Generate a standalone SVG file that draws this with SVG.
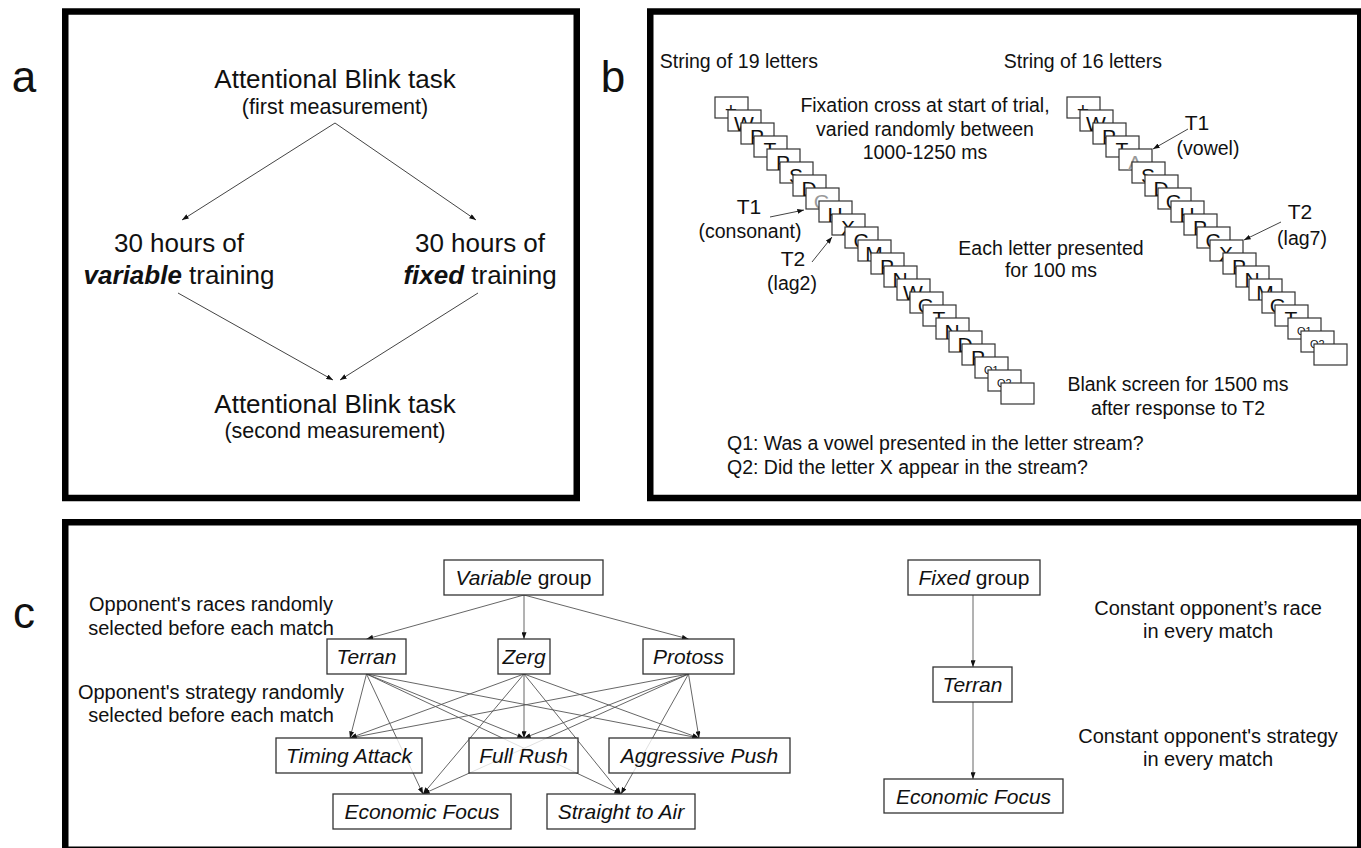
<svg xmlns="http://www.w3.org/2000/svg" width="1361" height="848" viewBox="0 0 1361 848">
<defs>
<marker id="ah" viewBox="0 0 8 6" refX="8" refY="3" markerWidth="7" markerHeight="5" markerUnits="userSpaceOnUse" orient="auto"><path d="M0,0 L8,3 L0,6 z" fill="#111"/></marker>
<style>
text{font-family:"Liberation Sans",Arial,sans-serif;fill:#111}
.frame{fill:none;stroke:#000;stroke-width:6.5}
.lab{font-size:44px;text-anchor:middle}
.t26{font-size:26px;text-anchor:middle}
.t21{font-size:21.5px;text-anchor:middle}
.pb{font-size:19.5px}
.mid{text-anchor:middle}
.tt{font-size:21px;text-anchor:middle}
.ln{stroke:#444;stroke-width:1;fill:none;marker-end:url(#ah)}
.lc{stroke:#555;stroke-width:0.9;fill:none;marker-end:url(#ah)}
.bx{fill:#fff;stroke:#333;stroke-width:1.2}
.lt{font-size:21px;text-anchor:middle}
.gr{fill:#999}
.q{font-size:11px}
.nd{fill:#fff;fill-opacity:0.8;stroke:#333;stroke-width:1.3}
.nt{font-size:21px;text-anchor:middle}
.it{font-style:italic}
.an{font-size:20px;text-anchor:middle}
</style>
</defs>
<rect width="1361" height="848" fill="#fff"/>

<!-- frames -->
<rect class="frame" x="65.25" y="11.5" width="511.5" height="486.5"/>
<rect class="frame" x="650.25" y="11.5" width="710" height="486.5"/>
<rect class="frame" x="65.25" y="522.25" width="1295" height="327.5"/>
<text class="lab" x="24" y="92">a</text>
<text class="lab" x="613" y="92">b</text>
<text class="lab" x="24" y="628">c</text>

<!-- panel a -->
<g id="a-top"><text class="t26" x="335" y="88">Attentional Blink task</text><text class="t21" x="335" y="114">(first measurement)</text></g>
<g id="a-var"><text class="t26" x="179" y="252">30 hours of</text><text class="t26" x="179" y="284"><tspan font-weight="bold" font-style="italic">variable</tspan> training</text></g>
<g id="a-fix"><text class="t26" x="480" y="252">30 hours of</text><text class="t26" x="480" y="284"><tspan font-weight="bold" font-style="italic">fixed</tspan> training</text></g>
<g id="a-bot"><text class="t26" x="335" y="413">Attentional Blink task</text><text class="t21" x="335" y="438">(second measurement)</text></g>
<g id="a-conn">
<line class="ln" x1="335" y1="123" x2="182" y2="220"/>
<line class="ln" x1="335" y1="123" x2="476" y2="220"/>
<line class="ln" x1="178" y1="293" x2="333" y2="380"/>
<line class="ln" x1="478" y1="293" x2="340" y2="380"/>
</g>

<!-- panel b texts -->
<g id="b-texts" class="pb">
<text x="818" y="68" text-anchor="end">String of 19 letters</text>
<text x="1162" y="68" text-anchor="end">String of 16 letters</text>
<text class="mid" x="925" y="112">Fixation cross at start of trial,</text>
<text class="mid" x="925" y="136">varied randomly between</text>
<text class="mid" x="925" y="159">1000-1250 ms</text>
<text class="mid" x="1051" y="255">Each letter presented</text>
<text class="mid" x="1051" y="277">for 100 ms</text>
<text class="mid" x="1178" y="391">Blank screen for 1500 ms</text>
<text class="mid" x="1178" y="415">after response to T2</text>
<text x="727" y="450">Q1: Was a vowel presented in the letter stream?</text>
<text x="727" y="474">Q2: Did the letter X appear in the stream?</text>
</g>
<g id="b-left-stack">
<g transform="translate(715,97)"><rect class="bx" width="33" height="21"/><text class="lt" x="16" y="20">+</text></g>
<g transform="translate(728,110)"><rect class="bx" width="33" height="21"/><text class="lt" x="16" y="21">W</text></g>
<g transform="translate(741,123)"><rect class="bx" width="33" height="21"/><text class="lt" x="16" y="21">P</text></g>
<g transform="translate(754,136)"><rect class="bx" width="33" height="21"/><text class="lt" x="16" y="21">T</text></g>
<g transform="translate(767,149)"><rect class="bx" width="33" height="21"/><text class="lt" x="16" y="21">P</text></g>
<g transform="translate(780,162)"><rect class="bx" width="33" height="21"/><text class="lt" x="16" y="21">S</text></g>
<g transform="translate(793,175)"><rect class="bx" width="33" height="21"/><text class="lt" x="16" y="21">D</text></g>
<g transform="translate(806,188)"><rect class="bx" width="33" height="21"/><text class="lt gr" x="16" y="21">G</text></g>
<g transform="translate(819,201)"><rect class="bx" width="33" height="21"/><text class="lt" x="16" y="21">H</text></g>
<g transform="translate(832,214)"><rect class="bx" width="33" height="21"/><text class="lt" x="16" y="21">X</text></g>
<g transform="translate(845,227)"><rect class="bx" width="33" height="21"/><text class="lt" x="16" y="21">C</text></g>
<g transform="translate(858,240)"><rect class="bx" width="33" height="21"/><text class="lt" x="16" y="21">M</text></g>
<g transform="translate(871,253)"><rect class="bx" width="33" height="21"/><text class="lt" x="16" y="21">P</text></g>
<g transform="translate(884,266)"><rect class="bx" width="33" height="21"/><text class="lt" x="16" y="21">N</text></g>
<g transform="translate(897,279)"><rect class="bx" width="33" height="21"/><text class="lt" x="16" y="21">W</text></g>
<g transform="translate(910,292)"><rect class="bx" width="33" height="21"/><text class="lt" x="16" y="21">G</text></g>
<g transform="translate(923,305)"><rect class="bx" width="33" height="21"/><text class="lt" x="16" y="21">T</text></g>
<g transform="translate(936,318)"><rect class="bx" width="33" height="21"/><text class="lt" x="16" y="21">N</text></g>
<g transform="translate(949,331)"><rect class="bx" width="33" height="21"/><text class="lt" x="16" y="21">D</text></g>
<g transform="translate(962,344)"><rect class="bx" width="33" height="21"/><text class="lt" x="16" y="21">P</text></g>
<g transform="translate(975,357)"><rect class="bx" width="33" height="21"/><text class="q" x="9" y="17">Q1</text></g>
<g transform="translate(988,370)"><rect class="bx" width="33" height="21"/><text class="q" x="9" y="17">Q2</text></g>
<g transform="translate(1001,383)"><rect class="bx" width="33" height="21"/></g>
</g>
<g id="b-right-stack">
<g transform="translate(1067,97)"><rect class="bx" width="33" height="21"/><text class="lt" x="16" y="20">+</text></g>
<g transform="translate(1080,110)"><rect class="bx" width="33" height="21"/><text class="lt" x="16" y="21">W</text></g>
<g transform="translate(1093,123)"><rect class="bx" width="33" height="21"/><text class="lt" x="16" y="21">P</text></g>
<g transform="translate(1106,136)"><rect class="bx" width="33" height="21"/><text class="lt" x="16" y="21">T</text></g>
<g transform="translate(1119,149)"><rect class="bx" width="33" height="21"/><text class="lt gr" x="16" y="21">A</text></g>
<g transform="translate(1132,162)"><rect class="bx" width="33" height="21"/><text class="lt" x="16" y="21">S</text></g>
<g transform="translate(1145,175)"><rect class="bx" width="33" height="21"/><text class="lt" x="16" y="21">D</text></g>
<g transform="translate(1158,188)"><rect class="bx" width="33" height="21"/><text class="lt" x="16" y="21">G</text></g>
<g transform="translate(1171,201)"><rect class="bx" width="33" height="21"/><text class="lt" x="16" y="21">H</text></g>
<g transform="translate(1184,214)"><rect class="bx" width="33" height="21"/><text class="lt" x="16" y="21">P</text></g>
<g transform="translate(1197,227)"><rect class="bx" width="33" height="21"/><text class="lt" x="16" y="21">C</text></g>
<g transform="translate(1210,240)"><rect class="bx" width="33" height="21"/><text class="lt" x="16" y="21">X</text></g>
<g transform="translate(1223,253)"><rect class="bx" width="33" height="21"/><text class="lt" x="16" y="21">P</text></g>
<g transform="translate(1236,266)"><rect class="bx" width="33" height="21"/><text class="lt" x="16" y="21">N</text></g>
<g transform="translate(1249,279)"><rect class="bx" width="33" height="21"/><text class="lt" x="16" y="21">M</text></g>
<g transform="translate(1262,292)"><rect class="bx" width="33" height="21"/><text class="lt" x="16" y="21">G</text></g>
<g transform="translate(1275,305)"><rect class="bx" width="33" height="21"/><text class="lt" x="16" y="21">T</text></g>
<g transform="translate(1288,318)"><rect class="bx" width="33" height="21"/><text class="q" x="9" y="17">Q1</text></g>
<g transform="translate(1301,331)"><rect class="bx" width="33" height="21"/><text class="q" x="9" y="17">Q2</text></g>
<g transform="translate(1314,344)"><rect class="bx" width="33" height="21"/></g>
</g>
<g id="b-targets">
<text class="tt" x="749" y="214">T1</text><text class="pb mid" x="750" y="238">(consonant)</text>
<text class="tt" x="793" y="266">T2</text><text class="pb mid" x="792" y="290">(lag2)</text>
<text class="tt" x="1197" y="130">T1</text><text class="pb mid" x="1208" y="155">(vowel)</text>
<text class="tt" x="1300" y="219">T2</text><text class="pb mid" x="1302" y="245">(lag7)</text>
</g>
<g id="b-conn">
<line class="ln" x1="770" y1="217" x2="804" y2="210"/>
<line class="ln" x1="812" y1="262" x2="832" y2="237"/>
<line class="ln" x1="1188" y1="129" x2="1153" y2="149"/>
<line class="ln" x1="1281" y1="222" x2="1244" y2="240"/>
</g>

<!-- panel c -->
<g id="c-notes">
<text class="an" x="211" y="611">Opponent's races randomly</text>
<text class="an" x="211" y="635">selected before each match</text>
<text class="an" x="211" y="699">Opponent's strategy randomly</text>
<text class="an" x="211" y="722">selected before each match</text>
<text class="an" x="1208" y="615">Constant opponent’s race</text>
<text class="an" x="1208" y="638">in every match</text>
<text class="an" x="1208" y="743">Constant opponent's strategy</text>
<text class="an" x="1208" y="766">in every match</text>
</g>
<g id="c-conn">
<line class="lc" x1="524" y1="595" x2="366.5" y2="639"/>
<line class="lc" x1="524" y1="595" x2="524" y2="639"/>
<line class="lc" x1="524" y1="595" x2="688.5" y2="639"/>
<line class="lc" x1="366.5" y1="674" x2="350" y2="738"/>
<line class="lc" x1="366.5" y1="674" x2="524" y2="738"/>
<line class="lc" x1="366.5" y1="674" x2="699" y2="738"/>
<line class="lc" x1="366.5" y1="674" x2="423" y2="794"/>
<line class="lc" x1="366.5" y1="674" x2="621" y2="794"/>
<line class="lc" x1="524" y1="674" x2="350" y2="738"/>
<line class="lc" x1="524" y1="674" x2="524" y2="738"/>
<line class="lc" x1="524" y1="674" x2="699" y2="738"/>
<line class="lc" x1="524" y1="674" x2="423" y2="794"/>
<line class="lc" x1="524" y1="674" x2="621" y2="794"/>
<line class="lc" x1="688.5" y1="674" x2="350" y2="738"/>
<line class="lc" x1="688.5" y1="674" x2="524" y2="738"/>
<line class="lc" x1="688.5" y1="674" x2="699" y2="738"/>
<line class="lc" x1="688.5" y1="674" x2="423" y2="794"/>
<line class="lc" x1="688.5" y1="674" x2="621" y2="794"/>
<line class="lc" x1="973" y1="595" x2="973" y2="667"/>
<line class="lc" x1="973" y1="702" x2="973" y2="779"/>
</g>
<g id="n-variable"><rect class="nd" x="444" y="560" width="159" height="35"/><text class="nt" x="523.5" y="585"><tspan class="it">Variable</tspan> group</text></g>
<g id="n-terran"><rect class="nd" x="327" y="639" width="79" height="35"/><text class="nt it" x="366.5" y="664">Terran</text></g>
<g id="n-zerg"><rect class="nd" x="498" y="639" width="52" height="35"/><text class="nt it" x="524" y="664">Zerg</text></g>
<g id="n-protoss"><rect class="nd" x="643" y="639" width="91" height="35"/><text class="nt it" x="688.5" y="664">Protoss</text></g>
<g id="n-timing"><rect class="nd" x="276" y="738" width="146" height="35"/><text class="nt it" x="349" y="763">Timing Attack</text></g>
<g id="n-fullrush"><rect class="nd" x="469" y="738" width="109" height="35"/><text class="nt it" x="523.5" y="763">Full Rush</text></g>
<g id="n-aggr"><rect class="nd" x="609" y="738" width="181" height="35"/><text class="nt it" x="699.5" y="763">Aggressive Push</text></g>
<g id="n-econ"><rect class="nd" x="333" y="794" width="178" height="35"/><text class="nt it" x="422" y="819">Economic Focus</text></g>
<g id="n-air"><rect class="nd" x="547" y="794" width="148" height="35"/><text class="nt it" x="621" y="819">Straight to Air</text></g>
<g id="n-fixed"><rect class="nd" x="908" y="560" width="132" height="35"/><text class="nt" x="974" y="585"><tspan class="it">Fixed</tspan> group</text></g>
<g id="n-fterran"><rect class="nd" x="933" y="667" width="79" height="35"/><text class="nt it" x="972.5" y="692">Terran</text></g>
<g id="n-fecon"><rect class="nd" x="884" y="779" width="179" height="34"/><text class="nt it" x="973.5" y="804">Economic Focus</text></g>
</svg>
